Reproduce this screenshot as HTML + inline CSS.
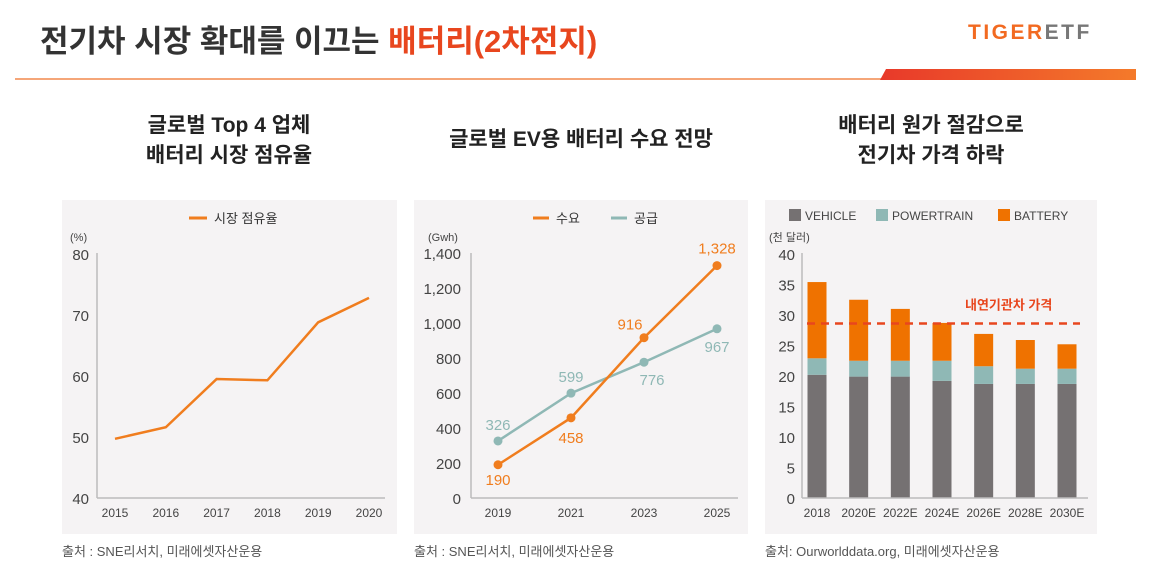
<!DOCTYPE html>
<html><head><meta charset="utf-8"><style>
body{margin:0;background:#fff;width:1149px;height:580px;overflow:hidden;font-family:"Liberation Sans","Noto Sans CJK KR",sans-serif}
svg text{font-family:"Liberation Sans","Noto Sans CJK KR",sans-serif}
</style></head><body>
<svg id="s" width="1149" height="580" xmlns="http://www.w3.org/2000/svg">
<defs><linearGradient id="g" x1="0" x2="1"><stop offset="0" stop-color="#e8392a"/><stop offset="1" stop-color="#f47a2a"/></linearGradient></defs>
<text x="40" y="52" font-size="31" font-weight="bold" fill="#333">전기차 시장 확대를 이끄는 <tspan fill="#e8461e">배터리(2차전지)</tspan></text>
<text x="968" y="39" font-size="21" font-weight="bold" fill="#f26a21" letter-spacing="2.5">TIGER<tspan fill="#777">ETF</tspan></text>
<rect x="15" y="78" width="870" height="2" fill="#f5a679"/>
<polygon points="880,80 886,69 1136,69 1136,80" fill="url(#g)"/>
<g font-size="21" font-weight="bold" fill="#222" text-anchor="middle">
<text x="229" y="132">글로벌 Top 4 업체</text>
<text x="229" y="162">배터리 시장 점유율</text>
<text x="581" y="146">글로벌 EV용 배터리 수요 전망</text>
<text x="931" y="132">배터리 원가 절감으로</text>
<text x="931" y="162">전기차 가격 하락</text>
</g>
<rect x="62" y="200" width="335" height="334" fill="#f5f3f4"/>
<rect x="414" y="200" width="334" height="334" fill="#f5f3f4"/>
<rect x="765" y="200" width="332" height="334" fill="#f5f3f4"/>
<g font-size="13" fill="#555">
<text x="62" y="556">출처 : SNE리서치, 미래에셋자산운용</text>
<text x="414" y="556">출처 : SNE리서치, 미래에셋자산운용</text>
<text x="765" y="556">출처: Ourworlddata.org, 미래에셋자산운용</text>
</g>
<g id="c1"></g><g id="c2"></g><g id="c3"></g>
</svg>
<script>
const NS="http://www.w3.org/2000/svg";
function mk(p,t,a,txt){const e=document.createElementNS(NS,t);for(const k in a)e.setAttribute(k,a[k]);if(txt!==undefined)e.textContent=txt;p.appendChild(e);return e;}
// chart 1
const c1Years=["2015","2016","2017","2018","2019","2020"];
const c1Share=[49.7,51.6,59.5,59.3,68.8,72.8];
const c1Ticks=[40,50,60,70,80];
// chart 2
const c2Years=["2019","2021","2023","2025"];
const c2Demand=[190,458,916,1328];
const c2Supply=[326,599,776,967];
const c2Ticks=[0,200,400,600,800,1000,1200,1400];
// chart 3
const c3Years=["2018","2020E","2022E","2024E","2026E","2028E","2030E"];
const c3Vehicle=[20.2,19.9,19.9,19.2,18.7,18.7,18.7];
const c3Powertrain=[2.7,2.6,2.6,3.3,2.9,2.5,2.5];
const c3Battery=[12.5,10.0,8.5,6.2,5.3,4.7,4.0];
const c3Ticks=[0,5,10,15,20,25,30,35,40];
const c3IceLine=28.6;
const OR="#f07d1e",TL="#8fb8b5",AX="#bbb";
(function(){const g=document.getElementById('c1');
const y=v=>498-(v-40)*244/40,x=i=>115+i*(369-115)/5;
let e=mk(g,'line',{x1:97,y1:253,x2:97,y2:498,stroke:AX,'stroke-width':1.5});

e=mk(g,'line',{x1:97,y1:498,x2:385,y2:498,stroke:AX,'stroke-width':1.5});

c1Ticks.forEach(t=>{const e=mk(g,'text',{x:89,y:y(t)+6,'font-size':15,fill:'#444','text-anchor':'end'},t);
});
c1Years.forEach((t,i)=>{const e=mk(g,'text',{x:x(i),y:517,'font-size':12,fill:'#444','text-anchor':'middle'},t);
});
e=mk(g,'text',{x:70,y:241,'font-size':11,fill:'#444'},'(%)');

e=mk(g,'polyline',{points:c1Share.map((v,i)=>x(i)+','+y(v)).join(' '),fill:'none',stroke:OR,'stroke-width':2.5});

e=mk(g,'line',{x1:189,y1:218,x2:207,y2:218,stroke:OR,'stroke-width':3});

e=mk(g,'text',{x:214,y:223,'font-size':13,fill:'#333'},'시장 점유율');

})();
(function(){const g=document.getElementById('c2');
const y=v=>498-v*245/1400,x=i=>498+i*(717-498)/3;
let e=mk(g,'line',{x1:471,y1:253,x2:471,y2:498,stroke:AX,'stroke-width':1.5});

e=mk(g,'line',{x1:471,y1:498,x2:738,y2:498,stroke:AX,'stroke-width':1.5});

c2Ticks.forEach(t=>{const e=mk(g,'text',{x:461,y:y(t)+6,'font-size':15,fill:'#444','text-anchor':'end'},t.toLocaleString('en-US'));
});
c2Years.forEach((t,i)=>{const e=mk(g,'text',{x:x(i),y:517,'font-size':12,fill:'#444','text-anchor':'middle'},t);
});
e=mk(g,'text',{x:428,y:241,'font-size':11,fill:'#444'},'(Gwh)');

[[c2Supply,TL,'supply'],[c2Demand,OR,'demand']].forEach(([d,c,n])=>{
let e=mk(g,'polyline',{points:d.map((v,i)=>x(i)+','+y(v)).join(' '),fill:'none',stroke:c,'stroke-width':2.5});

d.forEach((v,i)=>{const p=mk(g,'circle',{cx:x(i),cy:y(v),r:4.5,fill:c});
});});
const dOff=[[0,20],[0,25],[-14,-8],[0,-12]],sOff=[[0,-11],[0,-11],[8,23],[0,23]];
c2Demand.forEach((v,i)=>{const e=mk(g,'text',{x:x(i)+dOff[i][0],y:y(v)+dOff[i][1],'font-size':15,fill:OR,'text-anchor':'middle'},v.toLocaleString('en-US'));
});
c2Supply.forEach((v,i)=>{const e=mk(g,'text',{x:x(i)+sOff[i][0],y:y(v)+sOff[i][1],'font-size':15,fill:TL,'text-anchor':'middle'},v);
});
e=mk(g,'line',{x1:533,y1:218,x2:549,y2:218,stroke:OR,'stroke-width':3});

e=mk(g,'text',{x:556,y:223,'font-size':13,fill:'#333'},'수요');

e=mk(g,'line',{x1:611,y1:218,x2:627,y2:218,stroke:TL,'stroke-width':3});

e=mk(g,'text',{x:634,y:223,'font-size':13,fill:'#333'},'공급');

})();
(function(){const g=document.getElementById('c3');
const y=v=>498-v*244/40,x=i=>817+i*(1067-817)/6,w=19;
c3Ticks.forEach(t=>{const e=mk(g,'text',{x:795,y:y(t)+6,'font-size':15,fill:'#444','text-anchor':'end'},t);
});
c3Years.forEach((t,i)=>{const e=mk(g,'text',{x:x(i),y:517,'font-size':12,fill:'#444','text-anchor':'middle'},t);
});
let e=mk(g,'text',{x:769,y:241,'font-size':11,fill:'#444'},'(천 달러)');

c3Years.forEach((t,i)=>{let b=0;[[c3Vehicle,'#757172','vehicle'],[c3Powertrain,'#8fb8b5','powertrain'],[c3Battery,'#ef7200','battery']].forEach(([d,c,n])=>{
const r=mk(g,'rect',{x:x(i)-w/2,y:y(b+d[i]),width:w,height:y(b)-y(b+d[i]),fill:c});
b+=d[i];});});
e=mk(g,'line',{x1:802,y1:253,x2:802,y2:498,stroke:AX,'stroke-width':1.5});

e=mk(g,'line',{x1:802,y1:498,x2:1088,y2:498,stroke:AX,'stroke-width':1.5});

e=mk(g,'line',{x1:807,y1:y(c3IceLine),x2:1080,y2:y(c3IceLine),stroke:'#e8461e','stroke-width':2.5,'stroke-dasharray':'8,6'});

e=mk(g,'text',{x:965,y:y(c3IceLine)-14,'font-size':13,'font-weight':'bold',fill:'#e8461e'},'내연기관차 가격');

[[789,'#757172','VEHICLE'],[876,'#8fb8b5','POWERTRAIN'],[998,'#ef7200','BATTERY']].forEach(([lx,c,l])=>{
const s=mk(g,'rect',{x:lx,y:209,width:12,height:12,fill:c});

const t=mk(g,'text',{x:lx+16,y:220,'font-size':12,fill:'#444'},l);
});
})();
</script>
</body></html>
